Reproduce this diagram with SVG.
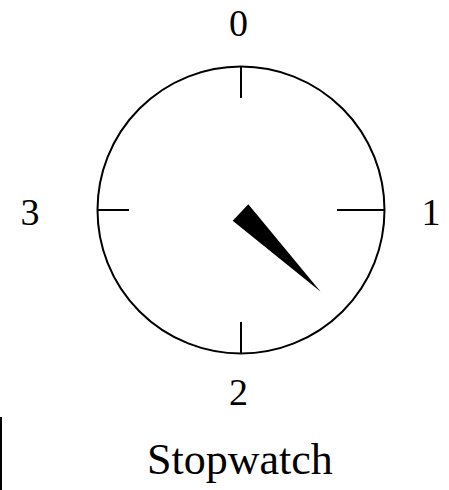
<svg xmlns="http://www.w3.org/2000/svg" width="449" height="490" viewBox="0 0 449 490">
<style>
.l{fill:#000;font-family:"Liberation Serif","Times New Roman",serif;font-size:38px;text-anchor:middle}
.t{stroke:#000;stroke-width:2;fill:none}
</style>
<rect width="449" height="490" fill="#fff"/>
<g id="dial">
<circle class="t" cx="241" cy="210" r="143.5"/>
</g>
<g id="ticks">
<line class="t" x1="241" y1="66" x2="241" y2="98"/>
<line class="t" x1="337" y1="210" x2="384" y2="210"/>
<line class="t" x1="241" y1="322" x2="241" y2="354"/>
<line class="t" x1="97" y1="210" x2="129" y2="210"/>
</g>
<g id="hand">
<polygon points="232.7,220.7 248.3,204.3 320.7,291.7" fill="#000"/>
</g>
<g id="labels">
<text class="l" x="238.5" y="36">0</text>
<text class="l" x="431" y="225">1</text>
<text class="l" x="238.5" y="405">2</text>
<text class="l" x="30" y="225">3</text>
<text class="l" x="240" y="474" style="font-size:44px">Stopwatch</text>
</g>
<line x1="1" y1="417" x2="1" y2="490" stroke="#000" stroke-width="2"/>
</svg>
